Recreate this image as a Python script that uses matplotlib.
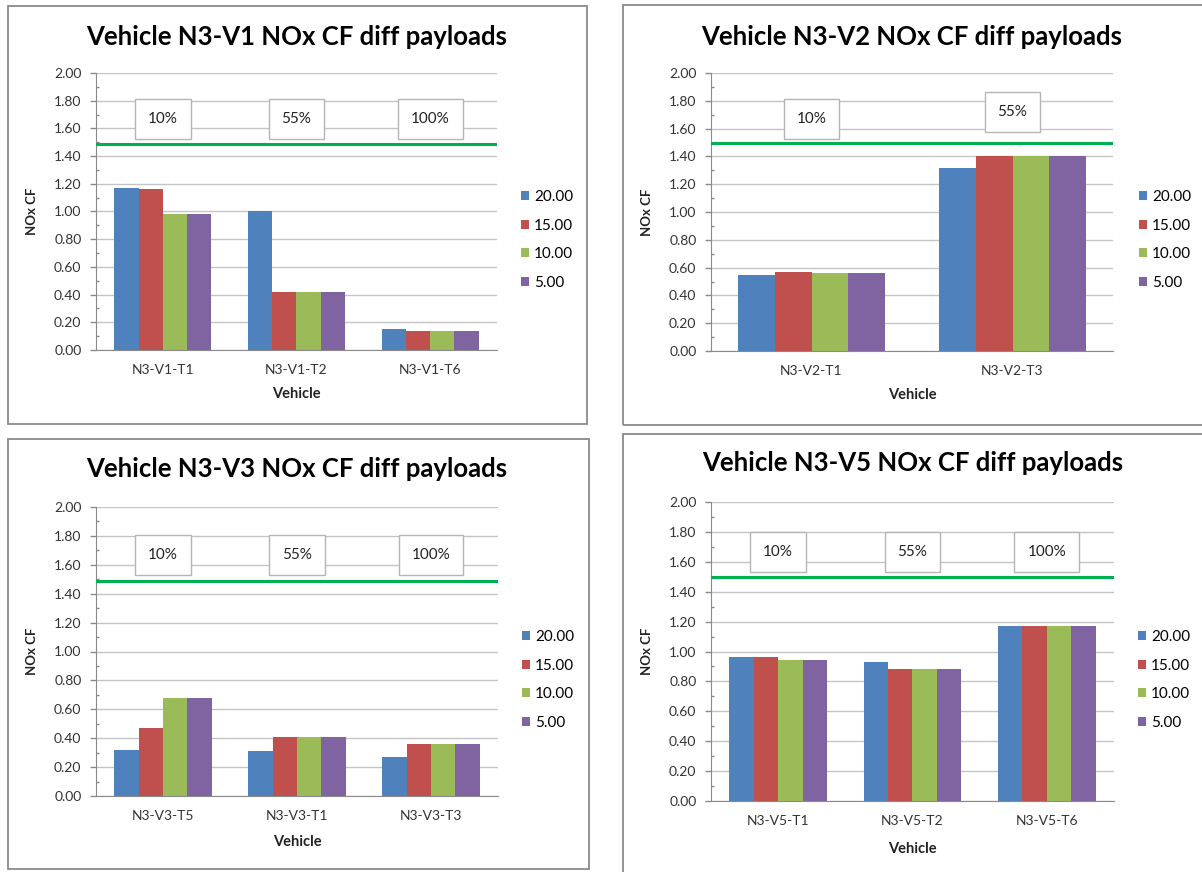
import matplotlib
matplotlib.use('Agg')
import matplotlib.pyplot as plt
from matplotlib.patches import Rectangle
from matplotlib.ticker import FormatStrFormatter, AutoMinorLocator
import numpy as np

plt.rcParams['font.family'] = ['Lato', 'DejaVu Sans']


# payload series (same four in every chart)
payloads = ['20.00', '15.00', '10.00', '5.00']
bar_colors = ['#4F81BD', '#C0504D', '#9BBB59', '#8064A2']
limit_color = '#00B050'

# one row per payload, one column per trip
v1_trips = ['N3-V1-T1', 'N3-V1-T2', 'N3-V1-T6']
v1_cf = [[1.17, 1.00, 0.15],
         [1.16, 0.42, 0.14],
         [0.98, 0.42, 0.14],
         [0.98, 0.42, 0.14]]
v1_loads = ['10%', '55%', '100%']

v2_trips = ['N3-V2-T1', 'N3-V2-T3']
v2_cf = [[0.55, 1.32],
         [0.57, 1.40],
         [0.56, 1.40],
         [0.56, 1.40]]
v2_loads = ['10%', '55%']

v3_trips = ['N3-V3-T5', 'N3-V3-T1', 'N3-V3-T3']
v3_cf = [[0.32, 0.31, 0.27],
         [0.47, 0.41, 0.36],
         [0.68, 0.41, 0.36],
         [0.68, 0.41, 0.36]]
v3_loads = ['10%', '55%', '100%']

v5_trips = ['N3-V5-T1', 'N3-V5-T2', 'N3-V5-T6']
v5_cf = [[0.96, 0.93, 1.17],
         [0.96, 0.88, 1.17],
         [0.94, 0.88, 1.17],
         [0.94, 0.88, 1.17]]
v5_loads = ['10%', '55%', '100%']

cf_limits = [1.49, 1.50, 1.49, 1.50]


W, H = 1202, 872
fig = plt.figure(figsize=(W / 100, H / 100), dpi=100)


def fx(px):
    return px / W


def fy(py):
    return 1 - py / H


def draw_panel(title, trips, values, loads, limit, frame, plot, legend_xy, load_y):
    # chart frame (pixel box: left, top, right, bottom)
    x0, y0, x1, y1 = frame
    fig.add_artist(Rectangle((fx(x0), fy(y1)), (x1 - x0) / W, (y1 - y0) / H,
                             transform=fig.transFigure, fill=False,
                             ec='#8a8a8a', lw=1.3, zorder=0))

    l, t, r, b = plot
    ax = fig.add_axes([fx(l), fy(b), (r - l) / W, (b - t) / H])

    n = len(values)
    width = 1 / (n + 1.5)   # excel gap width 150%
    x = np.arange(len(trips))
    for i, (vals, lab, col) in enumerate(zip(values, payloads, bar_colors)):
        ax.bar(x + (i - (n - 1) / 2) * width, vals, width,
               color=col, label=lab, zorder=2)

    ax.axhline(limit, color=limit_color, lw=2.2, zorder=3)

    for j, lab in enumerate(loads):
        ax.text(j, load_y[j], lab, ha='center', va='center', fontsize=11,
                color='#222222', zorder=4,
                bbox=dict(boxstyle='square,pad=0.85', fc='white', ec='#b5b5b5', lw=1))

    ax.set_xlim(-0.5, len(trips) - 0.5)
    ax.set_ylim(0, 2)
    ax.set_yticks(np.arange(0, 2.01, 0.2))
    ax.yaxis.set_minor_locator(AutoMinorLocator(2))
    ax.yaxis.set_major_formatter(FormatStrFormatter('%.2f'))
    ax.set_xticks(x, trips)

    ax.set_axisbelow(True)
    ax.grid(axis='y', which='major', color='#c4c4c4', lw=1)
    for side in ['top', 'right']:
        ax.spines[side].set_visible(False)
    for side in ['left', 'bottom']:
        ax.spines[side].set_color('#8a8a8a')

    ax.tick_params(axis='y', which='major', length=4, width=1, color='#8a8a8a',
                   pad=6.5, labelsize=10, labelcolor='#333333')
    ax.tick_params(axis='y', which='minor', direction='in', length=2.5,
                   width=1, color='#8a8a8a')
    ax.tick_params(axis='x', length=0, pad=10, labelsize=10, labelcolor='#333333')

    ax.set_title(title, fontsize=18.5, fontweight='bold', y=1.13, va='center', pad=0)
    ax.set_xlabel('Vehicle', fontsize=10.5, fontweight='bold', color='#222222')
    ax.xaxis.set_label_coords(0.5, -0.16)
    ax.xaxis.label.set_va('center')
    ax.set_ylabel('NOx CF', fontsize=9.5, fontweight='bold', color='#222222')
    ax.yaxis.set_label_coords(-0.16, 0.5)
    ax.yaxis.label.set_va('center')

    ax.legend(loc='center left', bbox_to_anchor=(fx(legend_xy[0]), fy(legend_xy[1])),
              bbox_transform=fig.transFigure, frameon=False, fontsize=11,
              handlelength=0.55, handleheight=0.55, handletextpad=0.3,
              labelspacing=0.95, borderpad=0, borderaxespad=0)
    return ax


draw_panel('Vehicle N3-V1 NOx CF diff payloads', v1_trips, v1_cf, v1_loads, cf_limits[0],
           frame=(8, 6, 587, 424), plot=(96, 73, 497, 350),
           legend_xy=(521, 240), load_y=[1.67, 1.67, 1.67])

draw_panel('Vehicle N3-V2 NOx CF diff payloads', v2_trips, v2_cf, v2_loads, cf_limits[1],
           frame=(623, 5, 1215, 425), plot=(711, 73, 1113, 351),
           legend_xy=(1139, 240), load_y=[1.67, 1.72])

draw_panel('Vehicle N3-V3 NOx CF diff payloads', v3_trips, v3_cf, v3_loads, cf_limits[2],
           frame=(8, 439, 589, 869), plot=(96, 507, 498, 796),
           legend_xy=(522, 680), load_y=[1.67, 1.67, 1.67])

draw_panel('Vehicle N3-V5 NOx CF diff payloads', v5_trips, v5_cf, v5_loads, cf_limits[3],
           frame=(623, 434, 1215, 885), plot=(711, 502, 1114, 801),
           legend_xy=(1138, 680), load_y=[1.665, 1.665, 1.665])

fig.savefig('out.png', dpi=100)
